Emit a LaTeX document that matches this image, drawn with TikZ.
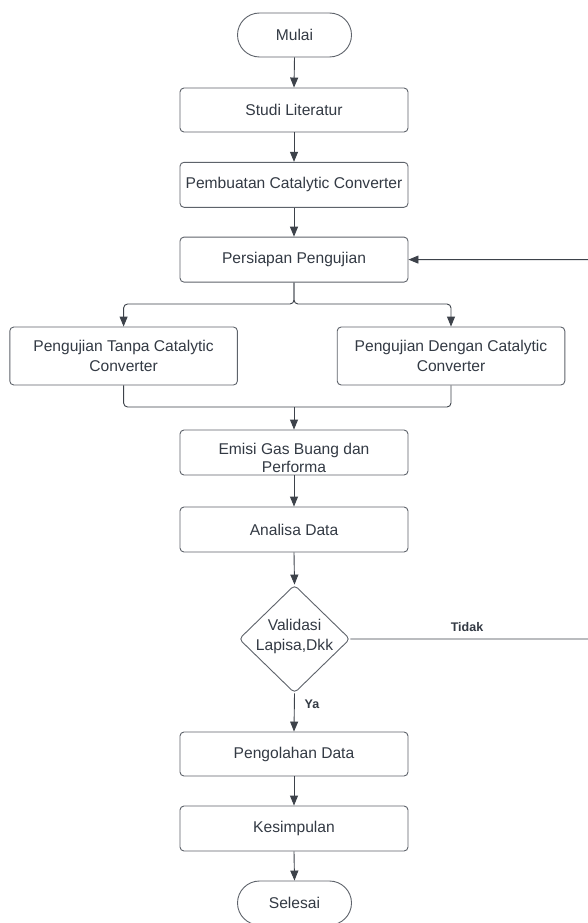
\documentclass[tikz,border=0pt]{standalone}
\usepackage{fontspec}
\setmainfont{Liberation Sans}
\usetikzlibrary{arrows.meta,shapes.geometric}
\definecolor{linec}{HTML}{3D424A}
\definecolor{boxc}{HTML}{5E636B}
\definecolor{txtc}{HTML}{333A44}
\tikzset{
  procbox/.style={draw=boxc, line width=0.9pt, rectangle, rounded corners=4pt, minimum width=228pt, minimum height=45pt, inner sep=0pt, text=txtc, align=center, font=\fontsize{15.6}{20}\selectfont},
  termbox/.style={draw=boxc, line width=0.9pt, rectangle, rounded corners=22pt, minimum width=114pt, minimum height=44pt, inner sep=0pt, text=txtc, font=\fontsize{15.6}{20}\selectfont},
  decbox/.style={draw=boxc, line width=0.9pt, diamond, aspect=1, rounded corners=4pt, minimum width=111pt, minimum height=108pt, inner sep=0pt},
  dectext/.style={text=txtc, align=center, font=\fontsize{15.6}{20}\selectfont},
  conn/.style={draw=linec, line width=0.9pt, rounded corners=4pt},
  arr/.style={conn, -{Triangle[width=8pt,length=10pt]}},
  lbl/.style={text=txtc, font=\fontsize{12.5}{14}\selectfont\bfseries}
}
\begin{document}
\begin{tikzpicture}[x=1pt,y=-1pt]
\useasboundingbox (0,0) rectangle (588,923);
\clip (0,0) rectangle (588,923);
\fill[white] (0,0) rectangle (588,923);
\node[termbox] (mulai) at (294.5,35) {Mulai};
\node[procbox, minimum height=44pt] (studi) at (294,110) {Studi Literatur};
\node[procbox] (pembuatan) at (294,184.8) {Pembuatan Catalytic Converter};
\node[procbox] (persiapan) at (294,259.6) {Persiapan Pengujian};
\node[procbox, minimum width=227.6pt, minimum height=58pt] (kiri) at (123.6,356) {Pengujian Tanpa Catalytic\\Converter};
\node[procbox, minimum width=227.6pt, minimum height=58pt] (kanan) at (451,356) {Pengujian Dengan Catalytic\\Converter};
\node[procbox] (emisi) at (294,452.5) {\raisebox{-19.5pt}[0pt][0pt]{\shortstack{Emisi Gas Buang dan\\Performa}}};
\node[procbox] (analisa) at (294,529.5) {Analisa Data};
\node[decbox] (valid) at (294.5,639) {};
\node[dectext] (validtext) at (294.5,636) {Validasi\\Lapisa,Dkk};
\node[procbox, minimum height=44pt] (pengolahan) at (294,754) {Pengolahan Data};
\node[procbox] (kesimpulan) at (294,828.5) {Kesimpulan};
\node[termbox] (selesai) at (294.5,903) {Selesai};
\coordinate (split) at (294,304);
\coordinate (merge) at (294,407);
\coordinate (loopr) at (600,639);
\draw[arr] (mulai.south) -- (studi.north);
\draw[arr] (studi.south) -- (pembuatan.north);
\draw[arr] (pembuatan.south) -- (persiapan.north);
\draw[arr] (persiapan.south) -- (split) -| (kiri.north);
\draw[arr] (persiapan.south) -- (split) -| (kanan.north);
\draw[conn] (kiri.south) |- (merge) -| (kanan.south);
\draw[arr] (merge) -- (emisi.north);
\draw[arr] (emisi.south) -- (analisa.north);
\draw[arr] (analisa.south) -- (valid.north);
\draw[arr] (valid.south) -- (pengolahan.north);
\draw[arr] (pengolahan.south) -- (kesimpulan.north);
\draw[arr] (kesimpulan.south) -- (selesai.north);
\draw[arr] (valid.east) -- (loopr) |- (persiapan.east);
\node[lbl] (tidak) at (467,627) {Tidak};
\node[lbl] (ya) at (312,704) {Ya};
\end{tikzpicture}
\end{document}
